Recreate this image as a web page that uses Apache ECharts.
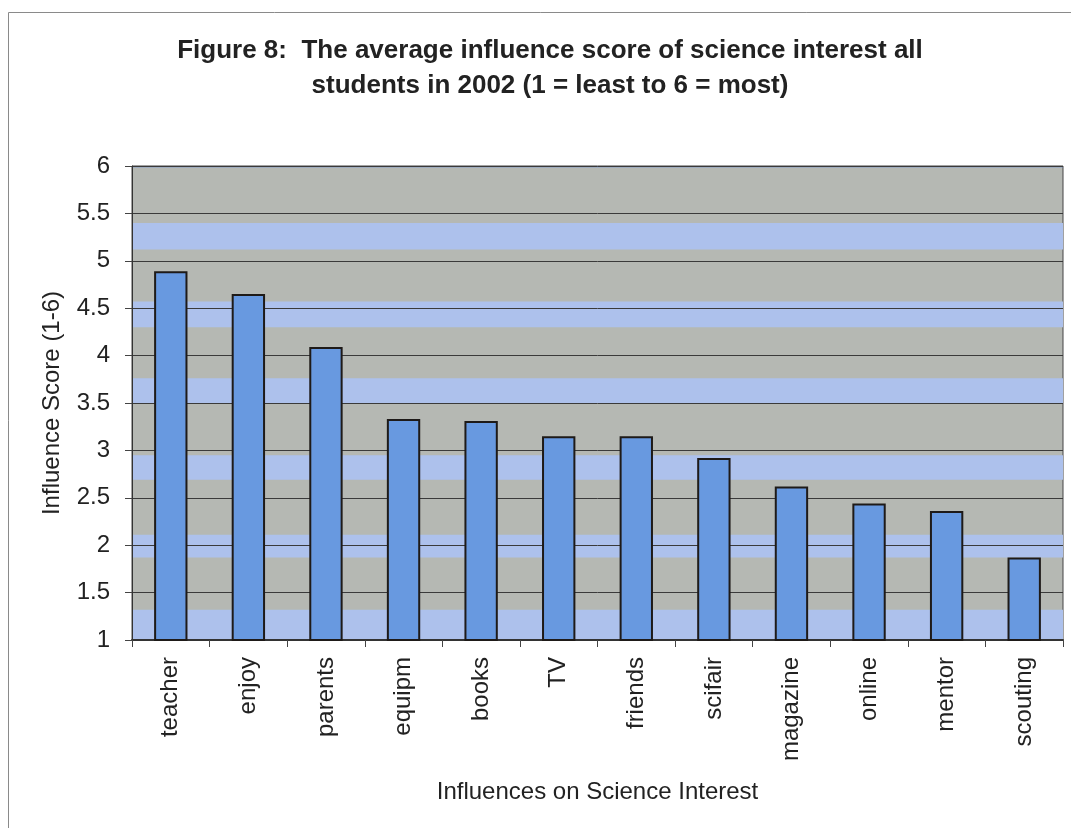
<!DOCTYPE html>
<html>
<head>
<meta charset="utf-8">
<title>Figure 8</title>
<script src="https://cdn.jsdelivr.net/npm/echarts@6/dist/echarts.min.js"></script>
<style>
  html, body { margin: 0; padding: 0; background: #ffffff; }
  #chart { width: 1071px; height: 828px; }
</style>
</head>
<body>
<div id="chart"></div>
<script>
// Influences on science interest, average score (1 = least, 6 = most)
const categories = ['teacher', 'enjoy', 'parents', 'equipm', 'books', 'TV',
                    'friends', 'scifair', 'magazine', 'online', 'mentor', 'scouting'];
const scores = [4.89, 4.65, 4.09, 3.33, 3.31, 3.15, 3.15, 2.92, 2.62, 2.44, 2.36, 1.87];

// Score ranges of the lighter blue bands across the plot background
const bandRanges = [
  [5.12, 5.40],
  [4.30, 4.57],
  [3.50, 3.76],
  [2.69, 2.95],
  [1.87, 2.11],
  [1.00, 1.32]
];

const titleLines = ['Figure 8:  The average influence score of science interest all',
                    'students in 2002 (1 = least to 6 = most)'];

const FONT = '"Liberation Sans", Arial, sans-serif';

const chart = echarts.init(document.getElementById('chart'), null, { renderer: 'canvas' });

const bandData = bandRanges.map(r => [{ yAxis: r[0] }, { yAxis: r[1] }]);
// thin blue edge along the top of the plot
bandData.push([{ yAxis: 5.988 }, { yAxis: 6, itemStyle: { color: '#5f86e0', opacity: 1 } }]);

chart.setOption({
  animation: false,
  backgroundColor: '#ffffff',
  title: {
    text: titleLines.join('\n'),
    left: 545,
    top: 28,
    textAlign: 'center',
    textStyle: {
      fontFamily: FONT,
      fontWeight: 'bold',
      fontSize: 26,
      lineHeight: 35,
      color: '#222222'
    }
  },
  graphic: [{
    type: 'rect',
    shape: { x: 8.5, y: 12.5, width: 1200, height: 1000 },
    style: { fill: 'none', stroke: '#8a8a8a', lineWidth: 1 },
    silent: true
  }],
  grid: {
    left: 132,
    right: 8,
    top: 166,
    bottom: 188,
    show: true,
    backgroundColor: '#b5b8b3',
    borderColor: '#444444',
    borderWidth: 1
  },
  xAxis: {
    type: 'category',
    data: categories,
    name: 'Influences on Science Interest',
    nameLocation: 'middle',
    nameGap: 140,
    nameTextStyle: { fontFamily: FONT, fontSize: 24, color: '#222222' },
    axisLine: { show: true, lineStyle: { color: '#333333', width: 2 } },
    axisTick: { show: true, length: 7, lineStyle: { color: '#444444' } },
    axisLabel: {
      rotate: 90,
      margin: 17,
      fontFamily: FONT,
      fontSize: 24,
      color: '#222222'
    },
    splitLine: { show: false },
    z: 1.5
  },
  yAxis: {
    type: 'value',
    min: 1,
    max: 6,
    interval: 0.5,
    name: 'Influence Score (1-6)',
    nameLocation: 'middle',
    nameGap: 68,
    nameTextStyle: { fontFamily: FONT, fontSize: 24, color: '#222222' },
    axisLine: { show: true, lineStyle: { color: '#333333', width: 1 } },
    axisTick: { show: true, length: 7, lineStyle: { color: '#444444' } },
    axisLabel: {
      margin: 22,
      fontFamily: FONT,
      fontSize: 24,
      color: '#222222'
    },
    splitLine: { show: true, lineStyle: { color: '#3a3a3a', width: 1 } },
    z: 1.5
  },
  series: [
    {
      // background bands only
      type: 'line',
      data: [],
      silent: true,
      z: 1,
      markArea: {
        silent: true,
        itemStyle: { color: '#adc1ec', opacity: 1 },
        data: bandData
      }
    },
    {
      type: 'bar',
      data: scores,
      barWidth: '43%',
      z: 2,
      itemStyle: {
        color: '#6899e0',
        borderColor: '#1e1a18',
        borderWidth: 2
      }
    }
  ]
});
</script>
</body>
</html>
